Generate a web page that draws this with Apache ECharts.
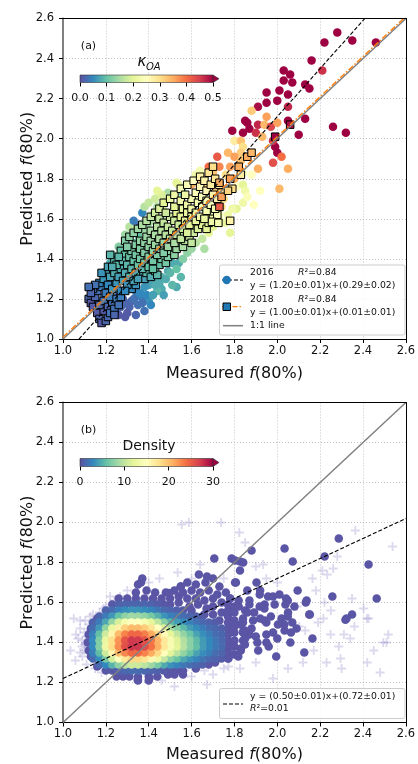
<!DOCTYPE html>
<html><head><meta charset="utf-8">
<script src="https://cdn.jsdelivr.net/npm/echarts@6/dist/echarts.min.js"></script>
<style>html,body{margin:0;padding:0;background:#fff}#c{width:418px;height:764px}</style>
</head><body><div id="c"></div>
<script>
// ---------- data ----------
const axisTicks = [1.0, 1.2, 1.4, 1.6, 1.8, 2.0, 2.2, 2.4, 2.6];
const koaTicks = [0.0, 0.1, 0.2, 0.3, 0.4, 0.5];
const densityTicks = [0, 10, 20, 30];
const spectralR = ['#5e4fa2','#3288bd','#66c2a5','#abdda4','#e6f598','#ffffbf','#fee08b','#fdae61','#f46d43','#d53e4f','#9e0142'];

// panel (a): [measured, predicted, kOA]
const pts2016 = [
[2.28,2.53,0.5],[2.22,2.48,0.5],[2.35,2.49,0.5],[2.46,2.48,0.5],[2.16,2.39,0.5],[2.21,2.34,0.46],[2.03,2.34,0.5],[2.06,2.32,0.5],[2.03,2.29,0.5],[2.07,2.28,0.5],[2.13,2.27,0.5],[2.15,2.25,0.5],[1.95,2.23,0.5],[2.01,2.24,0.5],[2.05,2.22,0.5],[1.95,2.18,0.5],[2.00,2.19,0.5],[2.05,2.16,0.47],[1.91,2.16,0.49],[1.88,2.14,0.32],[1.85,2.09,0.5],[1.86,2.08,0.5],[1.91,2.07,0.47],[1.95,2.11,0.36],[1.94,2.07,0.34],[1.97,2.06,0.44],[2.00,2.08,0.36],[2.05,2.09,0.5],[2.13,2.10,0.5],[2.26,2.06,0.5],[2.32,2.03,0.5],[2.10,2.02,0.5],[1.79,2.04,0.5],[1.84,2.03,0.5],[1.87,2.05,0.5],[1.90,2.03,0.46],[1.80,1.99,0.28],[1.83,1.99,0.33],[1.93,2.01,0.34],[1.99,1.96,0.5],[1.98,1.99,0.46],[2.00,1.93,0.5],[2.02,1.91,0.4],[1.98,1.88,0.43],[2.05,1.85,0.35],[2.01,1.75,0.34],[1.91,1.85,0.35],
[1.84,1.96,0.3],[1.83,1.93,0.32],[1.77,1.93,0.34],[1.72,1.91,0.42],[1.80,1.91,0.36],[1.83,1.89,0.33],[1.68,1.86,0.4],[1.73,1.86,0.38],[1.78,1.86,0.36],[1.70,1.83,0.33],[1.76,1.82,0.3],[1.80,1.80,0.35],[1.84,1.83,0.25],[1.88,1.82,0.25],[1.60,1.77,0.35],[1.62,1.82,0.22],[1.64,1.84,0.23],[1.65,1.79,0.34],[1.67,1.76,0.33],[1.71,1.73,0.33],[1.81,1.76,0.25],[1.84,1.77,0.2],[1.85,1.74,0.22],[1.92,1.74,0.25],[1.84,1.68,0.22],[1.89,1.67,0.25],[1.54,1.77,0.19],[1.58,1.77,0.24],[1.49,1.73,0.15],[1.56,1.73,0.1],[1.81,1.65,0.2],[1.79,1.65,0.22],[1.76,1.58,0.22],[1.78,1.53,0.2],[1.86,1.71,0.24],[1.75,1.70,0.3],
[1.62,1.70,0.24],[1.66,1.70,0.27],[1.70,1.66,0.25],[1.55,1.69,0.22],[1.52,1.66,0.2],[1.47,1.64,0.18],[1.50,1.70,0.2],[1.44,1.66,0.15],[1.42,1.62,0.17],[1.46,1.60,0.16],[1.40,1.58,0.14],[1.74,1.66,0.3],[1.73,1.62,0.24],[1.68,1.62,0.22],[1.64,1.58,0.2],[1.72,1.60,0.22],[1.46,1.58,0.15],[1.41,1.59,0.15],[1.53,1.78,0.2],
[1.36,1.57,0.02],[1.37,1.63,0.05],[1.32,1.55,0.15],[1.27,1.45,0.14],[1.24,1.38,0.08],[1.22,1.38,0.08],[1.23,1.34,0.05],[1.35,1.52,0.1],[1.30,1.50,0.13],[1.34,1.48,0.1],[1.38,1.54,0.14],[1.31,1.45,0.11],[1.25,1.40,0.1],[1.28,1.36,0.08],[1.35,1.43,0.12],[1.40,1.48,0.14],[1.44,1.52,0.15],[1.48,1.56,0.17],[1.52,1.60,0.19],[1.55,1.58,0.17],[1.58,1.62,0.2],[1.48,1.50,0.14],[1.52,1.48,0.13],[1.46,1.45,0.12],[1.42,1.42,0.1],[1.38,1.38,0.09],[1.55,1.52,0.16],[1.60,1.57,0.18],[1.57,1.50,0.15],[1.50,1.44,0.1],[1.44,1.38,0.09],[1.40,1.34,0.07],[1.36,1.30,0.07],[1.51,1.38,0.08],[1.54,1.38,0.08],[1.49,1.34,0.08],[1.46,1.31,0.09],[1.43,1.29,0.08],[1.40,1.27,0.07],[1.53,1.26,0.08],[1.51,1.27,0.09],[1.46,1.25,0.08],[1.44,1.24,0.09],[1.40,1.19,0.06],[1.37,1.21,0.04],[1.34,1.21,0.04],[1.32,1.19,0.02],[1.37,1.18,0.03],[1.31,1.16,0.02],[1.27,1.16,0.02],[1.30,1.13,0.01],[1.41,1.17,0.05],
[1.15,1.23,0.03],[1.18,1.27,0.04],[1.20,1.30,0.05],[1.24,1.28,0.05],[1.26,1.22,0.03],[1.28,1.20,0.02],[1.30,1.25,0.04],[1.32,1.28,0.05],[1.34,1.24,0.04],[1.27,1.30,0.06],[1.30,1.33,0.07],[1.22,1.20,0.02],[1.25,1.15,0.02],[1.29,1.18,0.02],[1.33,1.20,0.03],[1.36,1.23,0.05],[1.38,1.26,0.06],[1.35,1.17,0.03],[1.39,1.22,0.05],[1.42,1.22,0.07],[1.43,1.27,0.08],[1.21,1.24,0.04],[1.19,1.21,0.03],[1.17,1.18,0.02],[1.22,1.17,0.02],
[1.21,1.35,0.08],[1.23,1.42,0.11],[1.26,1.46,0.12],[1.29,1.52,0.14],[1.31,1.56,0.16],[1.33,1.59,0.04],[1.38,1.66,0.16],[1.40,1.68,0.17],[1.43,1.70,0.18],[1.46,1.72,0.19],[1.48,1.69,0.18],[1.44,1.74,0.2],[1.34,1.44,0.12],
[1.45,1.28,0.08],[1.48,1.30,0.08],[1.50,1.33,0.09],[1.53,1.35,0.1],[1.56,1.40,0.12],[1.58,1.43,0.13],[1.60,1.45,0.14],[1.62,1.48,0.16],[1.65,1.50,0.17],[1.68,1.53,0.2],[1.70,1.56,0.2],[1.74,1.58,0.21],[1.77,1.62,0.22],[1.66,1.45,0.15],[1.55,1.31,0.09],[1.47,1.22,0.07],[1.38,1.14,0.03],[1.34,1.12,0.02],[1.29,1.11,0.01],[1.26,1.12,0.01]
];
const pts2018 = [
[1.12,1.20,0.02],[1.13,1.18,0.01],[1.15,1.21,0.02],[1.14,1.16,0.01],[1.16,1.13,0.01],[1.17,1.10,0.02],[1.18,1.08,0.01],[1.20,1.09,0.02],[1.21,1.11,0.02],[1.19,1.14,0.01],[1.17,1.17,0.02],[1.19,1.19,0.03],[1.21,1.16,0.02],[1.22,1.13,0.03],[1.23,1.18,0.03],[1.16,1.24,0.03],[1.18,1.26,0.04],[1.20,1.23,0.04],[1.22,1.21,0.04],[1.24,1.15,0.03],[1.25,1.20,0.04],[1.14,1.25,0.03],[1.17,1.28,0.05],[1.19,1.30,0.06],
[1.13,1.23,0.02],[1.15,1.27,0.03],[1.12,1.26,0.03],[1.24,1.12,0.02],[1.26,1.17,0.03],[1.27,1.21,0.04],[1.20,1.33,0.07],[1.18,1.33,0.06],[1.21,1.36,0.07],[1.24,1.39,0.09],[1.22,1.42,0.09],[1.27,1.44,0.1],[1.29,1.42,0.1],[1.32,1.25,0.05],[1.34,1.27,0.06],[1.36,1.32,0.08],[1.38,1.30,0.07],[1.39,1.33,0.09],[1.41,1.31,0.08],[1.43,1.34,0.1],[1.45,1.37,0.1],[1.44,1.32,0.09],[1.46,1.40,0.11],[1.48,1.38,0.11],[1.49,1.41,0.12],[1.50,1.44,0.13],[1.52,1.42,0.13],[1.53,1.45,0.14],[1.54,1.48,0.15],[1.56,1.46,0.15],[1.57,1.49,0.16],[1.59,1.51,0.17],[1.60,1.48,0.17],[1.61,1.53,0.18],[1.63,1.55,0.19],[1.65,1.57,0.2],[1.67,1.55,0.2],[1.68,1.58,0.21],[1.70,1.60,0.22],[1.72,1.62,0.24],
[1.29,1.49,0.12],[1.31,1.51,0.13],[1.33,1.53,0.13],[1.35,1.55,0.14],[1.37,1.57,0.15],[1.39,1.59,0.16],[1.41,1.61,0.17],[1.43,1.63,0.18],[1.45,1.65,0.19],[1.47,1.68,0.2],[1.50,1.70,0.21],[1.52,1.72,0.22],[1.55,1.75,0.23],[1.58,1.77,0.24],[1.61,1.79,0.25],[1.64,1.81,0.27],[1.68,1.83,0.29],[1.70,1.86,0.3],
[1.21,1.27,0.05],[1.23,1.25,0.06],[1.25,1.28,0.06],[1.27,1.24,0.05],[1.22,1.31,0.07],[1.24,1.33,0.08],[1.26,1.31,0.07],[1.28,1.29,0.07],[1.30,1.27,0.06],[1.27,1.35,0.08],[1.29,1.33,0.08],[1.31,1.31,0.08],[1.33,1.29,0.07],[1.25,1.37,0.09],[1.28,1.39,0.09],[1.30,1.37,0.09],[1.32,1.35,0.09],[1.34,1.33,0.08],[1.29,1.24,0.05],[1.23,1.36,0.08],[1.35,1.30,0.07],[1.31,1.41,0.1],[1.26,1.41,0.09],
[1.33,1.39,0.1],[1.35,1.37,0.1],[1.37,1.35,0.09],[1.32,1.44,0.11],[1.34,1.42,0.11],[1.36,1.40,0.11],[1.38,1.38,0.11],[1.40,1.36,0.1],[1.34,1.47,0.12],[1.36,1.45,0.12],[1.38,1.43,0.12],[1.40,1.41,0.12],[1.42,1.39,0.11],[1.36,1.49,0.13],[1.38,1.48,0.13],[1.40,1.46,0.13],[1.42,1.44,0.13],[1.44,1.42,0.12],[1.39,1.51,0.14],[1.41,1.49,0.14],[1.43,1.47,0.14],[1.45,1.45,0.13],[1.47,1.43,0.12],[1.30,1.46,0.12],[1.42,1.35,0.1],
[1.41,1.54,0.15],[1.43,1.52,0.15],[1.45,1.50,0.15],[1.47,1.48,0.14],[1.49,1.46,0.14],[1.44,1.56,0.16],[1.46,1.54,0.16],[1.48,1.52,0.16],[1.50,1.50,0.16],[1.52,1.48,0.15],[1.45,1.60,0.17],[1.47,1.58,0.17],[1.49,1.56,0.17],[1.51,1.54,0.17],[1.53,1.52,0.17],[1.50,1.61,0.18],[1.52,1.59,0.18],[1.54,1.57,0.18],[1.56,1.55,0.18],[1.48,1.63,0.18],[1.55,1.50,0.17],[1.58,1.53,0.19],
[1.53,1.63,0.2],[1.55,1.61,0.2],[1.57,1.59,0.2],[1.59,1.57,0.2],[1.52,1.66,0.2],[1.56,1.65,0.21],[1.58,1.63,0.21],[1.60,1.61,0.21],[1.62,1.59,0.21],[1.55,1.69,0.22],[1.58,1.67,0.22],[1.60,1.65,0.22],[1.62,1.63,0.22],[1.64,1.61,0.22],[1.60,1.70,0.23],[1.63,1.68,0.23],[1.65,1.66,0.23],[1.67,1.64,0.23],[1.57,1.72,0.22],[1.62,1.73,0.24],[1.65,1.71,0.24],[1.67,1.69,0.24],[1.69,1.67,0.24],[1.71,1.65,0.23],[1.695,1.585,0.22],[1.725,1.58,0.23],[1.78,1.59,0.27],[1.66,1.60,0.21],
[1.64,1.76,0.26],[1.67,1.74,0.26],[1.70,1.72,0.27],[1.72,1.70,0.27],[1.66,1.79,0.27],[1.69,1.77,0.28],[1.73,1.77,0.28],[1.74,1.73,0.3],[1.71,1.80,0.29],[1.79,1.75,0.3],[1.73,1.66,0.42],[1.74,1.71,0.36],[1.77,1.74,0.31],[1.78,1.80,0.36],[1.73,1.78,0.35],[1.82,1.86,0.35],[1.83,1.82,0.28],[1.86,1.91,0.35],[1.88,1.93,0.34],[1.99,2.01,0.5],[2.06,2.07,0.49]
];
const oneToOne = [[1.0, 1.0], [2.6, 2.6]];
const fit2016 = [1.20, -0.29];   // slope, intercept (as drawn)
const fit2018 = [1.00, 0.01];
const fitB = [0.50, 0.72];

// panel (b): [measured, predicted, density]
const densityPts = [
[1.20,1.26,0.4],[1.23,1.26,0.6],[1.26,1.26,1.0],[1.29,1.26,1.3],[1.32,1.26,1.5],[1.35,1.26,1.5],[1.38,1.26,1.3],[1.41,1.26,1.1],[1.44,1.26,0.9],[1.47,1.26,0.6],[1.50,1.26,0.4],[1.53,1.26,0.3],[1.56,1.26,0.3],
[1.17,1.29,1.4],[1.20,1.29,3.0],[1.23,1.29,5.2],[1.26,1.29,7.7],[1.29,1.29,9.7],[1.32,1.29,10.7],[1.35,1.29,10.6],[1.38,1.29,9.8],[1.41,1.29,8.4],[1.44,1.29,6.8],[1.47,1.29,4.7],[1.50,1.29,3.4],[1.53,1.29,2.7],[1.56,1.29,2.1],[1.59,1.29,1.5],[1.62,1.29,1.2],[1.65,1.29,0.9],
[1.14,1.32,1.4],[1.17,1.32,3.3],[1.20,1.32,6.8],[1.23,1.32,10.9],[1.26,1.32,14.8],[1.29,1.32,17.2],[1.32,1.32,18.4],[1.35,1.32,18.3],[1.38,1.32,17.4],[1.41,1.32,15.7],[1.44,1.32,13.2],[1.47,1.32,10.2],[1.50,1.32,7.6],[1.53,1.32,6.1],[1.56,1.32,4.6],[1.59,1.32,3.5],[1.62,1.32,2.7],[1.65,1.32,1.9],[1.68,1.32,1.3],[1.71,1.32,1.0],[1.74,1.32,0.7],
[1.14,1.35,2.5],[1.17,1.35,5.7],[1.20,1.35,10.7],[1.23,1.35,15.9],[1.26,1.35,20.0],[1.29,1.35,22.8],[1.32,1.35,24.3],[1.35,1.35,24.2],[1.38,1.35,23.0],[1.41,1.35,21.0],[1.44,1.35,18.3],[1.47,1.35,15.1],[1.50,1.35,11.8],[1.53,1.35,9.7],[1.56,1.35,7.9],[1.59,1.35,6.1],[1.62,1.35,4.3],[1.65,1.35,3.3],[1.68,1.35,2.4],[1.71,1.35,1.5],[1.74,1.35,1.1],
[1.14,1.38,3.1],[1.17,1.38,7.2],[1.20,1.38,12.9],[1.23,1.38,18.2],[1.26,1.38,22.5],[1.29,1.38,25.8],[1.32,1.38,27.4],[1.35,1.38,27.3],[1.38,1.38,26.0],[1.41,1.38,23.8],[1.44,1.38,20.8],[1.47,1.38,17.3],[1.50,1.38,14.1],[1.53,1.38,11.9],[1.56,1.38,9.6],[1.59,1.38,7.6],[1.62,1.38,5.8],[1.65,1.38,4.0],[1.68,1.38,3.0],[1.71,1.38,2.1],[1.74,1.38,1.4],
[1.14,1.41,3.1],[1.17,1.41,7.1],[1.20,1.41,12.6],[1.23,1.41,17.9],[1.26,1.41,22.2],[1.29,1.41,25.5],[1.32,1.41,27.2],[1.35,1.41,27.1],[1.38,1.41,25.7],[1.41,1.41,23.5],[1.44,1.41,20.6],[1.47,1.41,17.1],[1.50,1.41,13.9],[1.53,1.41,11.6],[1.56,1.41,9.4],[1.59,1.41,7.5],[1.62,1.41,5.6],[1.65,1.41,3.9],[1.68,1.41,3.0],[1.71,1.41,2.0],[1.74,1.41,1.3],
[1.14,1.44,2.5],[1.17,1.44,5.8],[1.20,1.44,10.8],[1.23,1.44,16.0],[1.26,1.44,20.2],[1.29,1.44,23.0],[1.32,1.44,24.4],[1.35,1.44,24.3],[1.38,1.44,23.2],[1.41,1.44,21.2],[1.44,1.44,18.5],[1.47,1.44,15.3],[1.50,1.44,12.0],[1.53,1.44,9.9],[1.56,1.44,8.0],[1.59,1.44,6.2],[1.62,1.44,4.4],[1.65,1.44,3.3],[1.68,1.44,2.4],[1.71,1.44,1.5],[1.74,1.44,1.2],
[1.14,1.47,1.6],[1.17,1.47,3.8],[1.20,1.47,7.9],[1.23,1.47,12.5],[1.26,1.47,16.4],[1.29,1.47,19.0],[1.32,1.47,20.3],[1.35,1.47,20.2],[1.38,1.47,19.2],[1.41,1.47,17.4],[1.44,1.47,15.0],[1.47,1.47,11.7],[1.50,1.47,8.8],[1.53,1.47,7.2],[1.56,1.47,5.6],[1.59,1.47,4.0],[1.62,1.47,3.2],[1.65,1.47,2.3],[1.68,1.47,1.5],[1.71,1.47,1.2],[1.74,1.47,0.8],
[1.14,1.50,1.0],[1.17,1.50,2.3],[1.20,1.50,4.5],[1.23,1.50,8.0],[1.26,1.50,11.2],[1.29,1.50,13.7],[1.32,1.50,14.9],[1.35,1.50,14.8],[1.38,1.50,13.8],[1.41,1.50,12.2],[1.44,1.50,9.9],[1.47,1.50,7.4],[1.50,1.50,5.3],[1.53,1.50,4.0],[1.56,1.50,3.2],[1.59,1.50,2.5],[1.62,1.50,1.8],[1.65,1.50,1.3],[1.68,1.50,1.0],[1.71,1.50,0.7],
[1.17,1.53,1.1],[1.20,1.53,2.3],[1.23,1.53,3.8],[1.26,1.53,6.0],[1.29,1.53,7.7],[1.32,1.53,8.5],[1.35,1.53,8.4],[1.38,1.53,7.8],[1.41,1.53,6.7],[1.44,1.53,5.1],[1.47,1.53,3.6],[1.50,1.53,2.6],[1.53,1.53,2.0],[1.56,1.53,1.5],[1.59,1.53,1.2],[1.62,1.53,0.9],[1.65,1.53,0.6],
[1.20,1.56,1.0],[1.23,1.56,1.5],[1.26,1.56,2.5],[1.29,1.56,3.2],[1.32,1.56,3.5],[1.35,1.56,3.5],[1.38,1.56,3.2],[1.41,1.56,2.8],[1.44,1.56,2.1],[1.47,1.56,1.4],[1.50,1.56,1.1],[1.53,1.56,0.9],[1.56,1.56,0.6],
[1.23,1.59,0.5],[1.26,1.59,0.9],[1.29,1.59,1.1],[1.32,1.59,1.2],[1.35,1.59,1.2],[1.38,1.59,1.1],[1.41,1.59,1.0],[1.44,1.59,0.7],[1.47,1.59,0.4]
];
const sparsePts = [
[1.50,1.59,0.3],[1.54,1.60,0.3],[1.59,1.58,0.3],[1.63,1.59,0.3],[1.67,1.57,0.3],[1.70,1.54,0.3],[1.73,1.51,0.3],[1.60,1.56,0.3],[1.66,1.54,0.3],[1.70,1.58,0.3],[1.74,1.55,0.3],[1.68,1.29,0.3],[1.71,1.30,0.3],
[1.26,1.62,0.3],[1.30,1.62,0.3],[1.34,1.62,0.3],[1.38,1.62,0.3],[1.42,1.62,0.3],[1.46,1.62,0.3],[1.50,1.62,0.3],[1.54,1.63,0.3],[1.58,1.62,0.3],[1.62,1.62,0.3],[1.66,1.61,0.3],[1.70,1.62,0.3],[1.74,1.60,0.3],[1.78,1.62,0.3],
[1.34,1.65,0.3],[1.39,1.66,0.3],[1.43,1.65,0.3],[1.48,1.65,0.3],[1.52,1.66,0.3],[1.56,1.65,0.3],[1.60,1.66,0.3],[1.64,1.65,0.3],[1.68,1.66,0.3],[1.72,1.64,0.3],[1.55,1.68,0.3],[1.62,1.69,0.3],[1.58,1.70,0.3],
[1.77,1.32,0.3],[1.80,1.34,0.3],[1.77,1.35,0.3],[1.77,1.38,0.3],[1.80,1.38,0.3],[1.83,1.37,0.3],[1.77,1.41,0.3],[1.80,1.41,0.3],[1.84,1.41,0.3],[1.77,1.44,0.3],[1.80,1.45,0.3],[1.84,1.45,0.3],[1.87,1.44,0.3],[1.77,1.47,0.3],[1.80,1.48,0.3],[1.83,1.49,0.3],[1.77,1.50,0.3],[1.80,1.51,0.3],[1.84,1.52,0.3],[1.77,1.53,0.3],[1.80,1.55,0.3],[1.85,1.56,0.3],[1.77,1.56,0.3],[1.80,1.58,0.3],[1.77,1.59,0.3],[1.82,1.61,0.3],[1.87,1.59,0.3],
[1.25,1.23,0.3],[1.28,1.23,0.3],[1.31,1.23,0.3],[1.35,1.23,0.3],[1.40,1.23,0.3],[1.44,1.23,0.3],[1.49,1.24,0.3],[1.52,1.24,0.3],[1.35,1.21,0.3],[1.40,1.21,0.3],[1.47,1.27,0.3],[1.62,1.27,0.3],[1.56,1.24,0.3],
[1.115,1.40,0.3],[1.12,1.36,0.3],[1.12,1.44,0.3],[1.13,1.33,0.3],[1.13,1.47,0.3],[1.16,1.52,0.3],[1.16,1.28,0.3],
[1.364,1.70,0.3],[1.37,1.72,0.3],[1.35,1.69,0.3],[1.495,1.647,0.3],[1.549,1.68,0.3],[1.634,1.74,0.3],[1.665,1.70,0.3],[1.70,1.72,0.3],[1.803,1.70,0.3],[1.903,1.70,0.3],[1.826,1.805,0.3],[2.072,1.805,0.3],[1.957,1.63,0.3],[2.01,1.64,0.3],[2.049,1.61,0.3],[2.095,1.66,0.3],[2.133,1.60,0.3],[2.149,1.54,0.3],[2.257,1.63,0.3],[2.318,1.514,0.3],[2.349,1.54,0.3],[2.426,1.79,0.3],[2.464,1.62,0.3],[2.164,1.42,0.3],[2.126,1.35,0.3],[1.995,1.33,0.3],[1.911,1.36,0.3],[1.949,1.40,0.3],[2.064,1.45,0.3],[2.033,1.49,0.3],[1.941,1.51,0.3],[1.841,1.455,0.3],[1.849,1.39,0.3],[1.818,1.33,0.3],[1.772,1.32,0.3],[1.688,1.32,0.3],
[2.287,1.92,0.3],[2.034,1.87,0.3],[1.880,1.86,0.3],[1.706,1.82,0.3],[1.787,1.82,0.3],[1.803,1.81,0.3],[1.841,1.80,0.3],[1.826,1.76,0.3],[1.672,1.73,0.3],[2.221,1.83,0.3],[2.137,1.61,0.3],[2.152,1.54,0.3],[2.323,1.52,0.3],[2.049,1.53,0.3],[1.807,1.70,0.3],[1.918,1.64,0.3],[1.98,1.63,0.3],[2.041,1.62,0.3],[2.038,1.59,0.3],[1.988,1.59,0.3],[1.941,1.59,0.3],[1.918,1.58,0.3],[1.892,1.55,0.3],[1.949,1.50,0.3],[2.003,1.49,0.3],[2.034,1.46,0.3],[1.949,1.44,0.3],[2.061,1.40,0.3],[1.907,1.40,0.3],[1.849,1.46,0.3],[1.887,1.51,0.3],[1.349,1.214,0.3],[1.403,1.22,0.3],[1.141,1.405,0.3],[1.172,1.33,0.3],[1.234,1.30,0.3],
[1.78,1.62,0.3],[1.82,1.58,0.3],[1.86,1.55,0.3],[1.84,1.50,0.3],[1.88,1.47,0.3],[1.85,1.42,0.3],[1.79,1.38,0.3],[1.83,1.36,0.3],[1.76,1.35,0.3],[1.90,1.43,0.3],[1.92,1.52,0.3],[1.87,1.61,0.3],[1.94,1.57,0.3],[1.97,1.53,0.3],[1.98,1.45,0.3],[2.00,1.42,0.3],[1.96,1.38,0.3],[2.02,1.52,0.3],[2.07,1.50,0.3],[2.09,1.47,0.3],[2.05,1.55,0.3],[2.08,1.58,0.3],[1.92,1.66,0.3],[1.86,1.66,0.3],[1.76,1.65,0.3],[1.73,1.68,0.3]
];
const plusPts = [
[1.554,1.99],[1.587,2.00],[1.738,2.00],[1.823,1.95],[1.934,1.79],[2.364,1.96],[2.538,1.88],[2.28,1.83],[1.949,1.72],[2.164,1.72],[2.233,1.74],[2.261,1.77],[2.21,1.76],[2.349,1.62],[2.403,1.57],[2.426,1.52],[2.215,1.52],[2.249,1.44],[2.311,1.44],[2.518,1.44],[2.495,1.40],[2.103,1.48],[2.13,1.46],[2.092,1.58],[2.51,1.40],[2.418,1.52],[2.287,1.38],[2.295,1.32],[1.98,1.22],[1.826,1.27],[1.772,1.28],[1.672,1.19],[1.266,1.63],[1.227,1.59],[1.104,1.51],[1.08,1.51],[1.151,1.51],[1.127,1.46],[1.058,1.31],[1.035,1.36],[1.089,1.38],[1.12,1.42],[1.535,1.75],[1.75,1.72],[1.566,1.26],[1.474,1.26],[1.05,1.52],[1.127,1.53],[1.10,1.45],[1.07,1.42],[1.09,1.33],[1.11,1.29],[1.15,1.27],[1.18,1.25],[1.10,1.36],[1.13,1.39],[1.08,1.47],[1.17,1.55],[1.20,1.58],[1.24,1.61],[1.45,1.72],[1.60,1.72],[1.90,1.78],[2.00,1.70],[2.18,1.66],[2.22,1.60],[2.19,1.50],[2.17,1.36],[2.23,1.30],[2.05,1.27],[1.90,1.30],[1.70,1.24],[1.60,1.23],[1.52,1.18],[1.46,1.21],[2.34,1.42],[2.45,1.36],[2.48,1.25],[2.30,1.27],[1.64,1.79],[1.85,1.90],
[1.09,1.41],[1.11,1.43],[1.10,1.39],[1.12,1.49],[1.14,1.54],[1.06,1.44],[1.08,1.35],[1.15,1.30],[1.19,1.57],[1.22,1.63],[1.30,1.66],[1.40,1.70],[1.75,1.27],[1.66,1.26],[2.12,1.30],[2.25,1.56],[2.36,1.48],[2.42,1.30]
];

// ---------- chart ----------
const FONT = 'DejaVu Sans';
const TXT = '#111';
const xFirst = axisTicks[0], xLast = axisTicks[axisTicks.length-1];
const fitLine = f => [[xFirst, f[0]*xFirst+f[1]], [xLast, f[0]*xLast+f[1]]];
const gridA = {left: 63, top: 18.5, width: 346, height: 320.5};
const gridB = {left: 63, top: 402.5, width: 346, height: 320.5};

function valAxis(gridIndex, name, isY, gap) {
  return {
    type: 'value', gridIndex, min: xFirst, max: xLast, interval: 0.2,
    name, nameLocation: 'middle', nameGap: gap, nameMoveOverlap: false,
    nameTextStyle: {fontSize: 16, fontFamily: FONT, color: TXT,
      rich: {i: {fontSize: 16, fontFamily: FONT, fontStyle: 'italic', color: TXT}}},
    axisLine: {show: true, onZero: false, lineStyle: {color: isY ? '#808080' : '#000', width: isY ? 2 : 1}},
    axisTick: {show: true, length: 4, lineStyle: {color: '#000', width: 1}},
    axisLabel: {fontSize: 11.5, fontFamily: FONT, color: TXT, margin: isY ? 9 : 6, formatter: v => v.toFixed(1)},
    splitLine: {show: true, showMinLine: false, showMaxLine: false, lineStyle: {color: '#b4b4b4', width: 0.8, type: [1, 2]}},
  };
}
function frameAxis(gridIndex, position) {
  return {type: 'value', gridIndex, position, min: xFirst, max: xLast, z: 10,
    axisLine: {show: true, onZero: false, lineStyle: {color: '#000', width: 1}},
    axisTick: {show: false}, axisLabel: {show: false}, splitLine: {show: false}};
}
function cbAxis(gridIndex, ticks, digits) {
  return {
    type: 'value', gridIndex, min: ticks[0], max: ticks[ticks.length-1], interval: ticks[1]-ticks[0],
    axisLine: {show: false}, splitLine: {show: false},
    axisTick: {show: true, length: 4, lineStyle: {color: '#000', width: 1}},
    axisLabel: {fontSize: 11, fontFamily: FONT, color: TXT, margin: 10, formatter: v => v.toFixed(digits)},
  };
}
function cbRender(maxV) {
  return function (params, api) {
    const p0 = api.coord([0, 0]), p1 = api.coord([maxV, 1]);
    const x = p0[0], y = p1[1], w = p1[0]-p0[0], h = p0[1]-p1[1];
    const stops = spectralR.map((c, i) => ({offset: i/(spectralR.length-1), color: c}));
    return {type: 'group', children: [
      {type: 'rect', shape: {x, y, width: w, height: h},
        style: {fill: new echarts.graphic.LinearGradient(0, 0, 1, 0, stops), stroke: '#333', lineWidth: 0.6}},
      {type: 'polygon', shape: {points: [[x+w, y], [x+w+6, y+h/2], [x+w, y+h]]},
        style: {fill: spectralR[spectralR.length-1], stroke: '#333', lineWidth: 0.6}}
    ]};
  };
}
const bData = densityPts.concat(sparsePts).sort((a, b) => a[2]-b[2]);
const plusPath = 'path://M4,0H6V4H10V6H6V10H4V6H0V4H4Z';

const LF = 9.3;
function T(text, x, y, size, align) {
  return {type: 'text', x, y, z: 100,
    style: {text, fontSize: size, fontFamily: FONT, fill: TXT, align: align || 'left', verticalAlign: 'middle'}};
}
function RT(text, x, y, size) {
  return {type: 'text', x, y, z: 100, style: {text, fontSize: size, fontFamily: FONT, fill: TXT, verticalAlign: 'middle',
    rich: {i: {fontStyle: 'italic', fontSize: size, fontFamily: FONT, fill: TXT}}}};
}

const graphic = [
  T('(a)', 88.5, 46.5, 11, 'center'),
  T('(b)', 88.5, 430.5, 11, 'center'),
  {type: 'text', x: 137.5, y: 62.5, z: 100, style: {text: 'κ', fontSize: 15, fontStyle: 'italic', fontFamily: FONT, fill: TXT, verticalAlign: 'middle'}},
  {type: 'text', x: 146, y: 67.5, z: 100, style: {text: 'OA', fontSize: 10, fontStyle: 'italic', fontFamily: FONT, fill: TXT, verticalAlign: 'middle'}},
  T('Density', 149, 446.5, 14, 'center'),
  // legend (a)
  {type: 'rect', z: 99, shape: {x: 219.5, y: 265, width: 185.5, height: 70, r: 2}, style: {fill: 'rgba(255,255,255,0.85)', stroke: '#cccccc', lineWidth: 1}},
  {type: 'line', z: 100, shape: {x1: 222, y1: 280, x2: 243, y2: 280}, style: {stroke: '#000', lineWidth: 1.1, lineDash: [4, 2]}},
  {type: 'circle', z: 101, shape: {cx: 226.7, cy: 280, r: 4.2}, style: {fill: '#1f77b4'}},
  T('2016', 250, 272.7, LF), RT('{i|R}²=0.84', 298, 272.7, LF),
  T('y = (1.20±0.01)x+(0.29±0.02)', 250, 286, LF),
  {type: 'line', z: 100, shape: {x1: 222, y1: 306.7, x2: 243, y2: 306.7}, style: {stroke: '#ff7f0e', lineWidth: 1.3, lineDash: [5, 2, 1.5, 2]}},
  {type: 'rect', z: 101, shape: {x: 223, y: 303, width: 7.5, height: 7.5}, style: {fill: '#1f77b4', stroke: '#000', lineWidth: 1}},
  T('2018', 250, 299.3, LF), RT('{i|R}²=0.84', 298, 299.3, LF),
  T('y = (1.00±0.01)x+(0.01±0.01)', 250, 312.3, LF),
  {type: 'line', z: 100, shape: {x1: 223, y1: 325.7, x2: 243, y2: 325.7}, style: {stroke: '#808080', lineWidth: 1.5}},
  T('1:1 line', 250, 325.7, LF),
  // legend (b)
  {type: 'rect', z: 99, shape: {x: 219.5, y: 688.5, width: 185.5, height: 30, r: 2}, style: {fill: 'rgba(255,255,255,0.85)', stroke: '#cccccc', lineWidth: 1}},
  {type: 'line', z: 100, shape: {x1: 223, y1: 704, x2: 243, y2: 704}, style: {stroke: '#000', lineWidth: 1.1, lineDash: [4, 2]}},
  T('y = (0.50±0.01)x+(0.72±0.01)', 250, 696.7, LF),
  RT('{i|R}²=0.01', 250, 709, LF),
];

const option = {
  animation: false,
  backgroundColor: '#fff',
  grid: [
    gridA, gridB,
    {left: 80, top: 75, width: 133, height: 7.5},
    {left: 80, top: 458.5, width: 133, height: 8}
  ],
  xAxis: [
    valAxis(0, 'Measured {i|f}(80%)', false, 26.5),
    valAxis(1, 'Measured {i|f}(80%)', false, 24.5),
    cbAxis(2, koaTicks, 1),
    cbAxis(3, densityTicks, 0),
    frameAxis(0, 'top'),
    frameAxis(1, 'top')
  ],
  yAxis: [
    valAxis(0, 'Predicted {i|f}(80%)', true, 27),
    valAxis(1, 'Predicted {i|f}(80%)', true, 27),
    {type: 'value', gridIndex: 2, min: 0, max: 1, show: false},
    {type: 'value', gridIndex: 3, min: 0, max: 1, show: false},
    frameAxis(0, 'right'),
    frameAxis(1, 'right')
  ],
  visualMap: [
    {type: 'continuous', show: false, min: koaTicks[0], max: koaTicks[koaTicks.length-1], dimension: 2, seriesIndex: [0, 1], inRange: {color: spectralR}},
    {type: 'continuous', show: false, min: densityTicks[0], max: densityTicks[densityTicks.length-1], dimension: 2, seriesIndex: [6], inRange: {color: spectralR}}
  ],
  series: [
    {type: 'scatter', xAxisIndex: 0, yAxisIndex: 0, data: pts2016, symbol: 'circle', symbolSize: 8.5, z: 2, silent: true, itemStyle: {opacity: 1}},
    {type: 'scatter', xAxisIndex: 0, yAxisIndex: 0, data: pts2018, symbol: 'rect', symbolSize: 7.5, z: 3, silent: true,
      itemStyle: {opacity: 1, borderColor: '#000', borderWidth: 1}},
    {type: 'line', xAxisIndex: 0, yAxisIndex: 0, data: oneToOne, symbol: 'none', z: 4, silent: true, lineStyle: {color: '#808080', width: 1.5}},
    {type: 'line', xAxisIndex: 0, yAxisIndex: 0, data: fitLine(fit2016), symbol: 'none', z: 5, clip: true, silent: true, lineStyle: {color: '#000', width: 1.1, type: [4, 2]}},
    {type: 'line', xAxisIndex: 0, yAxisIndex: 0, data: fitLine(fit2018), symbol: 'none', z: 6, clip: true, silent: true, lineStyle: {color: '#ff7f0e', width: 1.4, type: [6, 2, 1.5, 2]}},
    {type: 'scatter', xAxisIndex: 1, yAxisIndex: 1, data: plusPts, symbol: plusPath, symbolSize: 9, z: 1, silent: true,
      itemStyle: {opacity: 1, color: 'rgba(140,130,200,0.3)'}},
    {type: 'scatter', xAxisIndex: 1, yAxisIndex: 1, data: bData, symbol: 'circle', symbolSize: 8.5, z: 2, silent: true, itemStyle: {opacity: 1}},
    {type: 'line', xAxisIndex: 1, yAxisIndex: 1, data: oneToOne, symbol: 'none', z: 4, silent: true, lineStyle: {color: '#808080', width: 1.5}},
    {type: 'line', xAxisIndex: 1, yAxisIndex: 1, data: fitLine(fitB), symbol: 'none', z: 5, clip: true, silent: true, lineStyle: {color: '#000', width: 1.1, type: [4, 2]}},
    {type: 'custom', xAxisIndex: 2, yAxisIndex: 2, data: [[0, 0]], renderItem: cbRender(koaTicks[koaTicks.length-1]), silent: true, z: 10},
    {type: 'custom', xAxisIndex: 3, yAxisIndex: 3, data: [[0, 0]], renderItem: cbRender(densityTicks[densityTicks.length-1]), silent: true, z: 10}
  ],
  graphic
};
const chart = echarts.init(document.getElementById('c'), null, {renderer: 'canvas', width: 418, height: 764});
chart.setOption(option);
</script>
</body></html>
